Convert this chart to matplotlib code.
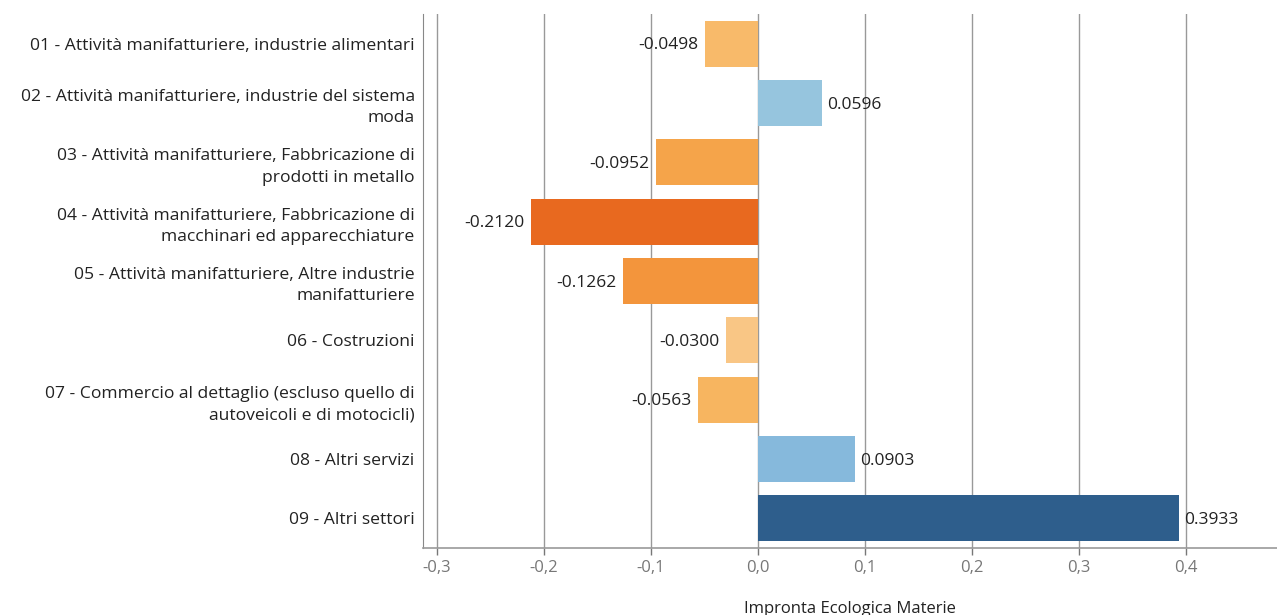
import matplotlib.pyplot as plt
from matplotlib.ticker import FuncFormatter

plt.rcParams['font.family'] = ['Open Sans', 'DejaVu Sans']

categories = [
    "01 - Attività manifatturiere, industrie alimentari",
    "02 - Attività manifatturiere, industrie del sistema\nmoda",
    "03 - Attività manifatturiere, Fabbricazione di\nprodotti in metallo",
    "04 - Attività manifatturiere, Fabbricazione di\nmacchinari ed apparecchiature",
    "05 - Attività manifatturiere, Altre industrie\nmanifatturiere",
    "06 - Costruzioni",
    "07 - Commercio al dettaglio (escluso quello di\nautoveicoli e di motocicli)",
    "08 - Altri servizi",
    "09 - Altri settori",
]
values = [-0.0498, 0.0596, -0.0952, -0.2120, -0.1262, -0.0300, -0.0563, 0.0903, 0.3933]
colors = ["#F8BA6A", "#96C5DE", "#F5A44A", "#E8691F", "#F3953C",
          "#F9C685", "#F7B560", "#86B9DC", "#2E5E8C"]
xticks = [-0.3, -0.2, -0.1, 0.0, 0.1, 0.2, 0.3, 0.4]

fig = plt.figure(figsize=(12.77, 6.15), dpi=100)
ax = fig.add_axes([423 / 1277, 1 - 548 / 615, (1277 - 423) / 1277, (548 - 14) / 615])

ypos = range(len(values))
ax.barh(ypos, values, height=0.77, color=colors, zorder=3)

for y, v in zip(ypos, values):
    if v < 0:
        ax.text(v - 0.006, y + 0.03, f"{v:.4f}", ha="right", va="center", fontsize=12.5, color="#222222", zorder=4)
    else:
        ax.text(v + 0.005, y + 0.03, f"{v:.4f}", ha="left", va="center", fontsize=12.5, color="#222222", zorder=4)

ax.set_yticks(list(ypos))
ax.set_yticklabels(categories, fontsize=12.6, color="#222222", linespacing=1.45)
ax.set_ylim(8.5, -0.5)
ax.set_xlim(-0.313, 0.485)

ax.set_xticks(xticks)
ax.xaxis.set_major_formatter(FuncFormatter(lambda x, p: f"{x:.1f}".replace(".", ",")))
ax.tick_params(axis="x", colors="#777777", labelsize=12, length=5, width=1)
ax.tick_params(axis="y", length=0, pad=6)
ax.grid(axis="x", color="#999999", linewidth=1, zorder=0)

for s in ["top", "right"]:
    ax.spines[s].set_visible(False)
ax.spines["left"].set_color("#888888")
ax.spines["bottom"].set_color("#999999")
ax.spines["bottom"].set_linewidth(1.2)

ax.set_xlabel("Impronta Ecologica Materie", fontsize=12, color="#222222", labelpad=18)

fig.savefig("out.png", dpi=100)
